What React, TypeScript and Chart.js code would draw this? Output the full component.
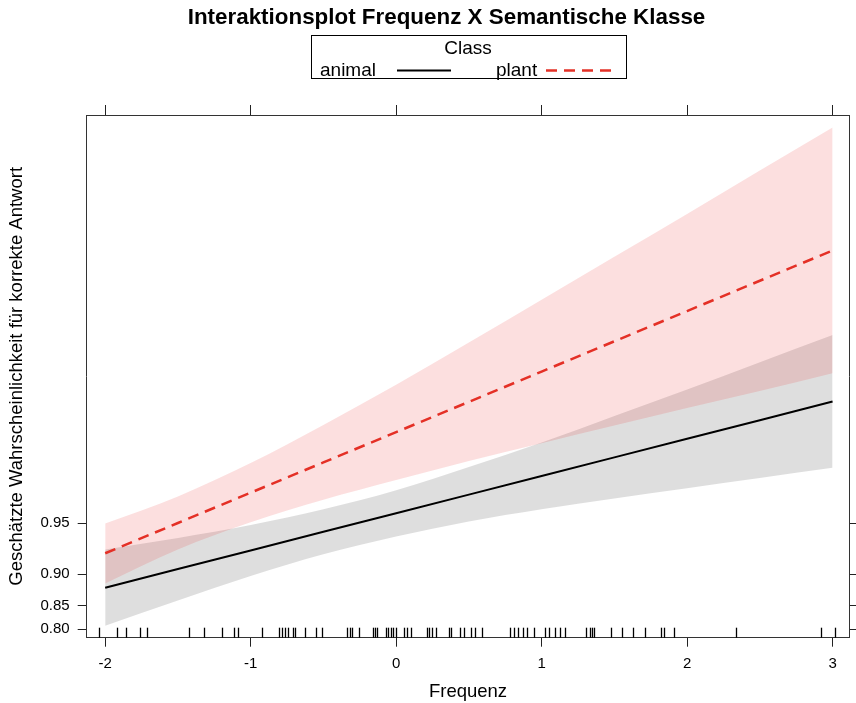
import React, { useEffect, useRef } from "react";
import { Chart, registerables } from "chart.js";

Chart.register(...registerables);

// ---- data (link / logit scale values) ----
const gridX = [-2, -1.5, -1, -0.5, 0, 0.5, 1, 1.5, 2, 2.5, 3];
const animalFit = [1.998, 2.272, 2.545, 2.819, 3.092, 3.366, 3.639, 3.913, 4.186, 4.46, 4.733];
const animalUpper = [2.56, 2.73, 2.92, 3.15, 3.43, 3.77, 4.13, 4.52, 4.91, 5.31, 5.71];
const animalLower = [1.44, 1.81, 2.17, 2.49, 2.75, 2.97, 3.15, 3.31, 3.46, 3.61, 3.76];
const plantFit = [2.504, 2.949, 3.394, 3.839, 4.284, 4.729, 5.174, 5.619, 6.064, 6.509, 6.954];
const plantUpper = [2.94, 3.34, 3.83, 4.39, 4.98, 5.6, 6.23, 6.86, 7.49, 8.13, 8.76];
const plantLower = [2.06, 2.56, 2.96, 3.29, 3.58, 3.86, 4.12, 4.38, 4.64, 4.89, 5.15];

const xTicks = [-2, -1, 0, 1, 2, 3];
const yTickProbs = [0.8, 0.85, 0.9, 0.95];
const yTickLabels = ["0.80", "0.85", "0.90", "0.95"];

const rugX = [
  -2.043, -1.92, -1.86, -1.759, -1.711, -1.425, -1.318, -1.198, -1.115, -1.088,
  -0.923, -0.804, -0.784, -0.763, -0.742, -0.708, -0.694, -0.625, -0.55, -0.512,
  -0.337, -0.32, -0.302, -0.254, -0.158, -0.144, -0.131, -0.072, -0.055, -0.038,
  -0.021, -0.003, 0.055, 0.076, 0.1, 0.211, 0.229, 0.245, 0.275, 0.361, 0.375,
  0.436, 0.464, 0.515, 0.543, 0.591, 0.784, 0.811, 0.838, 0.869, 0.898, 0.945,
  1.024, 1.052, 1.093, 1.127, 1.162, 1.306, 1.333, 1.347, 1.361, 1.474, 1.55,
  1.625, 1.708, 1.821, 1.842, 1.911, 2.333, 2.918, 3.017,
];

const titleText = "Interaktionsplot Frequenz X Semantische Klasse";
const xTitle = "Frequenz";
const yTitle = "Geschätzte Wahrscheinlichkeit für korrekte Antwort";
const legendTitle = "Class";
const seriesNames = ["animal", "plant"];

const X_MIN = -2.127;
const X_MAX = 3.115;
const Y_MIN = 1.263;
const Y_MAX = 8.945;

const RED = "rgb(228,48,38)";
const FONT = '"Liberation Sans", Arial, Helvetica, sans-serif';

const logit = (p: number) => Math.log(p / (1 - p));
const pts = (ys: number[]) => gridX.map((x, i) => ({ x, y: ys[i] }));

const decorPlugin = {
  id: "decor",
  afterDraw(chart: any) {
    const { ctx, chartArea, scales } = chart;
    ctx.save();
    // rug
    ctx.strokeStyle = "#000";
    ctx.lineWidth = 1.3;
    rugX.forEach((v) => {
      const px = Math.round(scales.x.getPixelForValue(v)) + 0.5;
      ctx.beginPath();
      ctx.moveTo(px, chartArea.bottom);
      ctx.lineTo(px, chartArea.bottom - 10);
      ctx.stroke();
    });
    const cx = (chartArea.left + chartArea.right) / 2;
    // title
    ctx.fillStyle = "#000";
    ctx.textAlign = "center";
    ctx.textBaseline = "middle";
    ctx.font = `bold 22.4px ${FONT}`;
    ctx.fillText(titleText, 446.5, 18);
    // legend box
    ctx.lineWidth = 1;
    ctx.strokeStyle = "#000";
    ctx.strokeRect(311.5, 35.5, 315, 43);
    ctx.font = `19px ${FONT}`;
    ctx.fillText(legendTitle, cx, 49);
    ctx.textAlign = "left";
    ctx.fillText(seriesNames[0], 320, 71);
    ctx.fillText(seriesNames[1], 496, 71);
    ctx.lineWidth = 2;
    ctx.beginPath();
    ctx.moveTo(397, 70.5);
    ctx.lineTo(451, 70.5);
    ctx.stroke();
    ctx.strokeStyle = RED;
    ctx.lineWidth = 2.5;
    ctx.setLineDash([11, 7]);
    ctx.beginPath();
    ctx.moveTo(546, 70.5);
    ctx.lineTo(611, 70.5);
    ctx.stroke();
    ctx.setLineDash([]);
    // axis titles
    ctx.font = `18.5px ${FONT}`;
    ctx.textAlign = "center";
    ctx.fillText(xTitle, cx, 692);
    ctx.save();
    ctx.translate(17, (chartArea.top + chartArea.bottom) / 2);
    ctx.rotate(-Math.PI / 2);
    ctx.fillText(yTitle, 0, 0);
    ctx.restore();
    ctx.restore();
  },
};

export default function App() {
  const ref = useRef<HTMLCanvasElement | null>(null);
  useEffect(() => {
    if (!ref.current) return;
    Chart.defaults.font.family = FONT;
    const axisCommon = {
      type: "linear" as const,
      grid: { drawOnChartArea: false, drawTicks: true, color: "#222", lineWidth: 1 },
      border: { display: true, color: "#333", width: 1 },
    };
    const chart = new Chart(ref.current, {
      type: "line",
      data: {
        datasets: [
          {
            label: "animal upper",
            data: pts(animalUpper),
            borderWidth: 0,
            pointRadius: 0,
            backgroundColor: "rgba(0,0,0,0.13)",
            fill: "+1",
            cubicInterpolationMode: "monotone",
            order: 3,
          },
          {
            label: "animal lower",
            data: pts(animalLower),
            borderWidth: 0,
            pointRadius: 0,
            fill: false,
            cubicInterpolationMode: "monotone",
            order: 3,
          },
          {
            label: "plant upper",
            data: pts(plantUpper),
            borderWidth: 0,
            pointRadius: 0,
            backgroundColor: "rgba(235,40,40,0.15)",
            fill: "+1",
            cubicInterpolationMode: "monotone",
            order: 2,
          },
          {
            label: "plant lower",
            data: pts(plantLower),
            borderWidth: 0,
            pointRadius: 0,
            fill: false,
            cubicInterpolationMode: "monotone",
            order: 2,
          },
          {
            label: "animal",
            data: pts(animalFit),
            borderColor: "#000",
            borderWidth: 2,
            pointRadius: 0,
            fill: false,
            order: 1,
          },
          {
            label: "plant",
            data: pts(plantFit),
            borderColor: RED,
            borderWidth: 2.5,
            borderDash: [11, 7],
            pointRadius: 0,
            fill: false,
            order: 0,
          },
        ],
      },
      options: {
        animation: false,
        responsive: false,
        maintainAspectRatio: false,
        layout: { padding: 0 },
        plugins: { legend: { display: false }, title: { display: false }, tooltip: { enabled: false } },
        scales: {
          x: {
            ...axisCommon,
            position: "bottom",
            min: X_MIN,
            max: X_MAX,
            grid: { ...axisCommon.grid, tickLength: 9 },
            ticks: { color: "#000", font: { size: 15 }, padding: 8, maxRotation: 0 },
            afterBuildTicks: (s: any) => {
              s.ticks = xTicks.map((v) => ({ value: v }));
            },
            afterFit: (s: any) => {
              s.height = 65.3;
            },
          },
          x2: {
            ...axisCommon,
            position: "top",
            min: X_MIN,
            max: X_MAX,
            grid: { ...axisCommon.grid, tickLength: 10 },
            ticks: { display: false },
            afterBuildTicks: (s: any) => {
              s.ticks = xTicks.map((v) => ({ value: v }));
            },
            afterFit: (s: any) => {
              s.height = 115;
            },
          },
          y: {
            ...axisCommon,
            position: "left",
            min: Y_MIN,
            max: Y_MAX,
            grid: { ...axisCommon.grid, tickLength: 9 },
            ticks: {
              color: "#000",
              font: { size: 15 },
              padding: 8,
              callback: (_v: any, i: number) => yTickLabels[i],
            },
            afterBuildTicks: (s: any) => {
              s.ticks = yTickProbs.map((p) => ({ value: logit(p) }));
            },
            afterFit: (s: any) => {
              s.width = 86.7;
            },
          },
          y2: {
            ...axisCommon,
            position: "right",
            min: Y_MIN,
            max: Y_MAX,
            grid: { ...axisCommon.grid, tickLength: 7 },
            ticks: { display: false },
            afterBuildTicks: (s: any) => {
              s.ticks = yTickProbs.map((p) => ({ value: logit(p) }));
            },
            afterFit: (s: any) => {
              s.width = 6.7;
            },
          },
        },
      } as any,
      plugins: [decorPlugin],
    });
    return () => chart.destroy();
  }, []);
  return (
    <div style={{ position: "absolute", left: 0, top: 0, width: 856, height: 703, background: "#fff" }}>
      <canvas ref={ref} width={856} height={703} style={{ width: 856, height: 703, display: "block" }} />
    </div>
  );
}
